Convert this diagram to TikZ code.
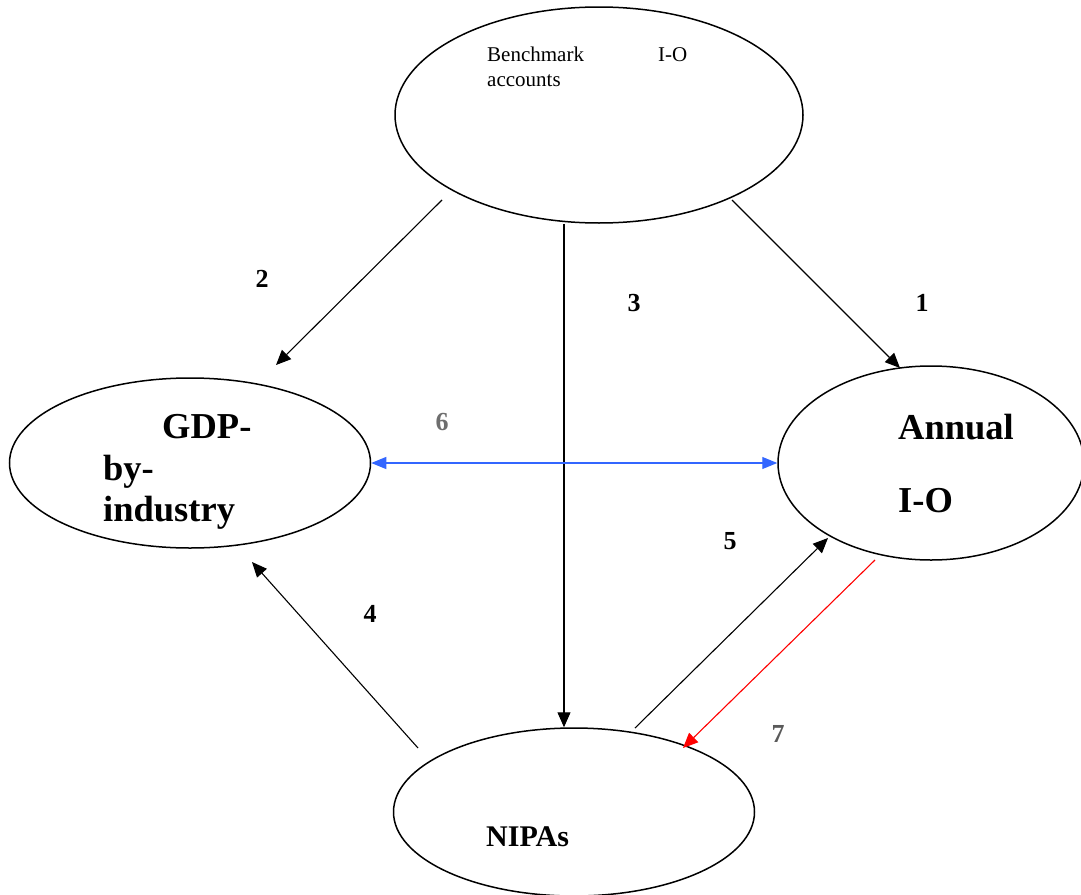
\documentclass[tikz,border=0pt]{standalone}
\usepackage{fontspec}
\setmainfont{Liberation Serif}
\usetikzlibrary{arrows.meta,shapes.geometric}
\begin{document}
\begin{tikzpicture}[x=1pt,y=-1pt,
  oval/.style={draw,line width=1.5pt,ellipse,inner sep=0pt},
  conn/.style={line width=1.1pt,-{Triangle[length=15pt,width=13pt]}},
  lab/.style={font=\bfseries\fontsize{26}{30}\selectfont,anchor=base},
  small/.style={font=\fontsize{21}{25}\selectfont,anchor=base west,inner sep=0pt},
  big/.style={font=\bfseries\fontsize{36.5}{42}\selectfont,anchor=base west,inner sep=0pt}]
\useasboundingbox (0,0) rectangle (1081,894);
% ellipses
\node[oval,minimum width=408pt,minimum height=216pt] (bench) at (599,115) {};
\node[oval,minimum width=361pt,minimum height=170pt] (gdp) at (190,463) {};
\node[oval,minimum width=306pt,minimum height=194pt] (aio) at (931,463) {};
\node[oval,minimum width=361pt,minimum height=168pt] (nipa) at (574,812) {};
% texts
\node[small] (t1) at (487,61) {Benchmark};
\node[small] (t2) at (658,61) {I-O};
\node[small] (t3) at (487,86) {accounts};
\node[big] (g1) at (162,438) {GDP-};
\node[big] (g2) at (103,480) {by-};
\node[big] (g3) at (103,521) {industry};
\node[big] (a1) at (898,439) {Annual};
\node[big] (a2) at (898,512) {I-O};
\node[big,font=\bfseries\fontsize{30}{34}\selectfont] (n1) at (486,846) {NIPAs};
% free ends
\coordinate (s2) at (442,200);
\coordinate (s1) at (732,200);
\coordinate (s4) at (418,748);
\coordinate (s5) at (635,728);
\coordinate (s7) at (875,560);
\coordinate (e2) at (276,365);
\coordinate (e1) at (900,368);
\coordinate (e4) at (252,562);
\coordinate (e5) at (828,538);
\coordinate (e7) at (683,748);
% connectors
\draw[conn] (s2) -- (e2);
\draw[conn] (bench.south -| 564,0) -- (nipa.north -| 564,0);
\draw[conn] (s1) -- (e1);
\draw[conn,{Triangle[length=15pt,width=12pt]}-{Triangle[length=15pt,width=12pt]},color={rgb,255:red,51;green,102;blue,255}] (gdp.east) -- (aio.west);
\draw[conn] (s4) -- (e4);
\draw[conn] (s5) -- (e5);
\draw[conn,red] (s7) -- (e7);
% labels
\node[lab] (l2) at (262,287) {2};
\node[lab] (l3) at (634,311) {3};
\node[lab] (l1) at (922,311) {1};
\node[lab,color={rgb,255:red,110;green,110;blue,110}] (l6) at (442,430) {6};
\node[lab] (l4) at (370,622) {4};
\node[lab] (l5) at (730,549) {5};
\node[lab,color={rgb,255:red,90;green,90;blue,90}] (l7) at (778,742) {7};
\end{tikzpicture}
\end{document}
